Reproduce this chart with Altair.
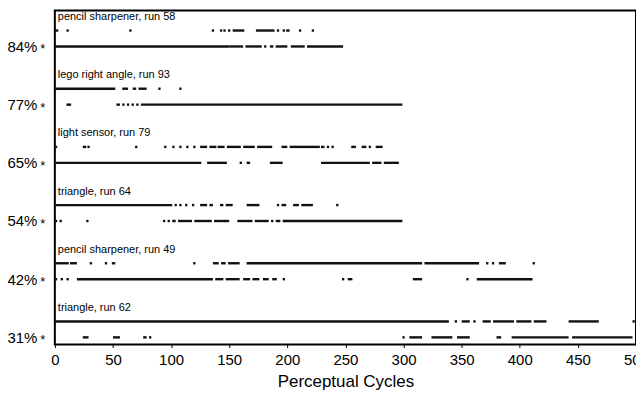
import altair as alt
import pandas as pd

# ---- data ----
panel_titles = ["pencil sharpener, run 58", "lego right angle, run 93", "light sensor, run 79",
                "triangle, run 64", "pencil sharpener, run 49", "triangle, run 62"]
percent_labels = ["84%", "77%", "65%", "54%", "42%", "31%"]

ps58_top = [(0, 3), (10, 12), (64, 66), (135, 137), (142, 144), (145, 147), (149, 151), (153, 163),
            (173, 189), (191, 193), (196, 198), (199, 202), (210, 212), (221, 223)]
ps58_bottom = [(0, 150), (150, 162), (164, 178), (180, 182), (185, 188), (190, 200), (203, 215), (217, 248)]

lego93_top = [(0, 52), (58, 63), (67, 70), (72, 79), (89, 91), (107, 109)]
lego93_bottom = [(10, 14), (53, 56), (58, 60), (62, 64), (66, 68), (70, 72), (74, 299)]

light79_top = [(0, 2), (24, 27), (28, 30), (69, 71), (94, 96), (101, 103), (107, 109), (113, 115),
               (119, 121), (125, 131), (133, 139), (140, 146), (148, 160), (162, 172), (174, 187),
               (195, 200), (202, 228), (229, 232), (234, 236), (238, 240), (255, 259), (264, 268),
               (270, 272), (276, 282)]
light79_bottom = [(0, 126), (131, 148), (159, 161), (165, 168), (185, 196), (229, 271), (273, 281), (283, 296)]

tri64_top = [(0, 101), (103, 105), (107, 109), (112, 114), (118, 120), (125, 131), (133, 136), (142, 145),
             (147, 153), (165, 176), (191, 193), (195, 199), (205, 210), (212, 222), (242, 244)]
tri64_bottom = [(0, 2), (4, 6), (27, 29), (93, 95), (97, 99), (101, 104), (106, 118), (120, 135),
                (137, 150), (157, 170), (172, 184), (186, 188), (190, 194), (196, 299)]

ps49_top = [(0, 12), (13, 19), (30, 32), (43, 45), (49, 52), (119, 121), (136, 141), (143, 147),
            (149, 159), (165, 316), (318, 365), (371, 373), (376, 378), (382, 388), (411, 413)]
ps49_bottom = [(0, 2), (5, 7), (10, 12), (19, 136), (138, 145), (147, 159), (162, 168), (170, 176),
               (179, 184), (187, 191), (196, 198), (247, 249), (252, 256), (308, 316), (354, 356), (363, 411)]

tri62_top = [(0, 339), (344, 346), (350, 357), (360, 362), (368, 375), (377, 395), (397, 410),
             (412, 423), (442, 468), (497, 499)]
tri62_bottom = [(24, 29), (50, 56), (76, 79), (81, 83), (299, 301), (305, 316), (324, 342), (346, 357),
                (380, 384), (393, 442), (445, 497)]

rows = [(ps58_top, ps58_bottom), (lego93_top, lego93_bottom), (light79_top, light79_bottom),
        (tri64_top, tri64_bottom), (ps49_top, ps49_bottom), (tri62_top, tri62_bottom)]

PANEL_STEP = 3.65
recs = []
for p, (top, bottom) in enumerate(rows):
    for s, e in top:
        recs.append({"start": s, "end": e, "ypos": p * PANEL_STEP})
    for s, e in bottom:
        recs.append({"start": s, "end": e, "ypos": p * PANEL_STEP + 1})
seg_df = pd.DataFrame(recs)

title_df = pd.DataFrame({"title": panel_titles,
                         "ypos": [p * PANEL_STEP - 0.85 for p in range(len(panel_titles))],
                         "x": [0] * len(panel_titles)})

tick_vals = [p * PANEL_STEP + 1 for p in range(len(percent_labels))]
star_df = pd.DataFrame({"ypos": tick_vals})
expr = "''"
for v, lab in reversed(list(zip(tick_vals, percent_labels))):
    expr = f"(abs(datum.value - {v}) < 0.1 ? '{lab}' : {expr})"

FONT = "Liberation Sans"
xscale = alt.Scale(domain=[0, 500], nice=False, zero=False)
yscale = alt.Scale(domain=[-1.25, 19.7], reverse=True, nice=False, zero=False)

segs = alt.Chart(seg_df).mark_rule(color="#111111", strokeWidth=2.4, strokeCap="butt").encode(
    x=alt.X("start:Q", scale=xscale,
            axis=alt.Axis(title="Perceptual Cycles", values=list(range(0, 501, 50)), grid=False,
                          domain=False, tickSize=3, tickColor="black", labelFontSize=15,
                          labelFont=FONT, labelColor="black", labelPadding=5,
                          titleFont=FONT, titleFontSize=17, titleFontWeight="normal",
                          titleColor="black", titlePadding=6,
                          labelOverlap=False, labelFlush=False)),
    x2="end:Q",
    y=alt.Y("ypos:Q", scale=yscale,
            axis=alt.Axis(title=None, values=tick_vals, labelExpr=expr, grid=False, domain=False,
                          ticks=False, labelFontSize=15, labelFont=FONT, labelColor="black",
                          labelPadding=18)),
)

stars = alt.Chart(star_df).mark_text(text="*", align="center", baseline="middle", dy=3,
                                     fontSize=13, font=FONT, color="black").encode(
    x=alt.value(-12), y=alt.Y("ypos:Q", scale=yscale))

titles = alt.Chart(title_df).mark_text(align="left", baseline="middle", dx=3, fontSize=11,
                                       font=FONT, color="black").encode(
    x=alt.X("x:Q", scale=xscale), y=alt.Y("ypos:Q", scale=yscale), text="title:N")

chart = alt.layer(segs, titles, stars).properties(
    width=583, height=335,
    background="white",
    autosize=alt.AutoSizeParams(type="none"),
    padding={"left": 47, "top": 2, "right": 0, "bottom": 50},
).configure_view(stroke="black", strokeWidth=2)

chart.save("out.html", embed_options={"renderer": "svg", "actions": False})
